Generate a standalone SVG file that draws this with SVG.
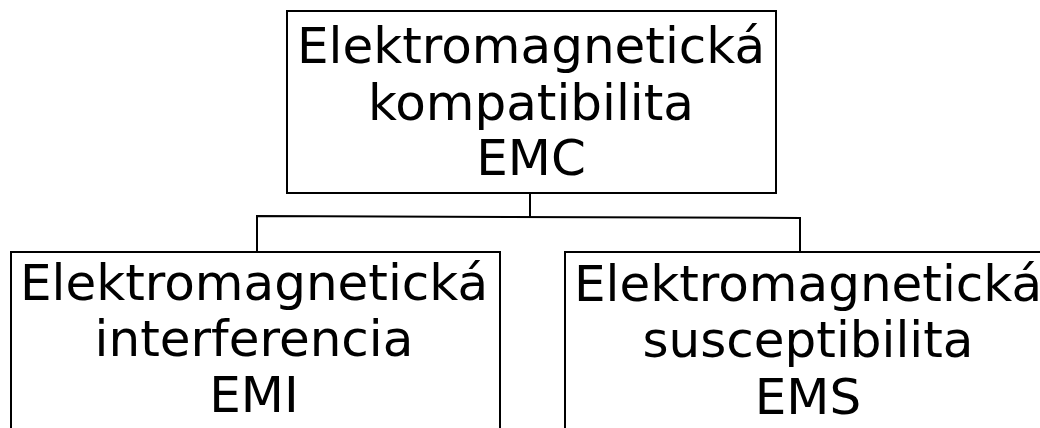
<svg xmlns="http://www.w3.org/2000/svg" width="1040" height="428" viewBox="0 0 1040 428">
<style>
.box{fill:#fff;stroke:#000;stroke-width:2}
.t{font-family:"DejaVu Sans",sans-serif;font-size:50px;fill:#000;text-anchor:middle}
.c{fill:none;stroke:#000;stroke-width:2}
</style>
<rect width="1040" height="428" fill="#fff"/>
<g id="connectors">
<path class="c" d="M530,194 V216.5 M257,251 V216 L800,218 V251"/>
</g>
<g id="emc">
<rect class="box" x="287" y="11" width="489" height="182"/>
<text class="t" x="531" y="63">Elektromagnetická</text>
<text class="t" x="531" y="120">kompatibilita</text>
<text class="t" x="531" y="175">EMC</text>
</g>
<g id="emi">
<rect class="box" x="11" y="252" width="489" height="190"/>
<text class="t" x="254" y="300">Elektromagnetická</text>
<text class="t" x="254" y="356">interferencia</text>
<text class="t" x="254" y="412">EMI</text>
</g>
<g id="ems">
<rect class="box" x="565" y="252" width="489" height="190"/>
<text class="t" x="808" y="301">Elektromagnetická</text>
<text class="t" x="808" y="357">susceptibilita</text>
<text class="t" x="808" y="414">EMS</text>
</g>
</svg>
